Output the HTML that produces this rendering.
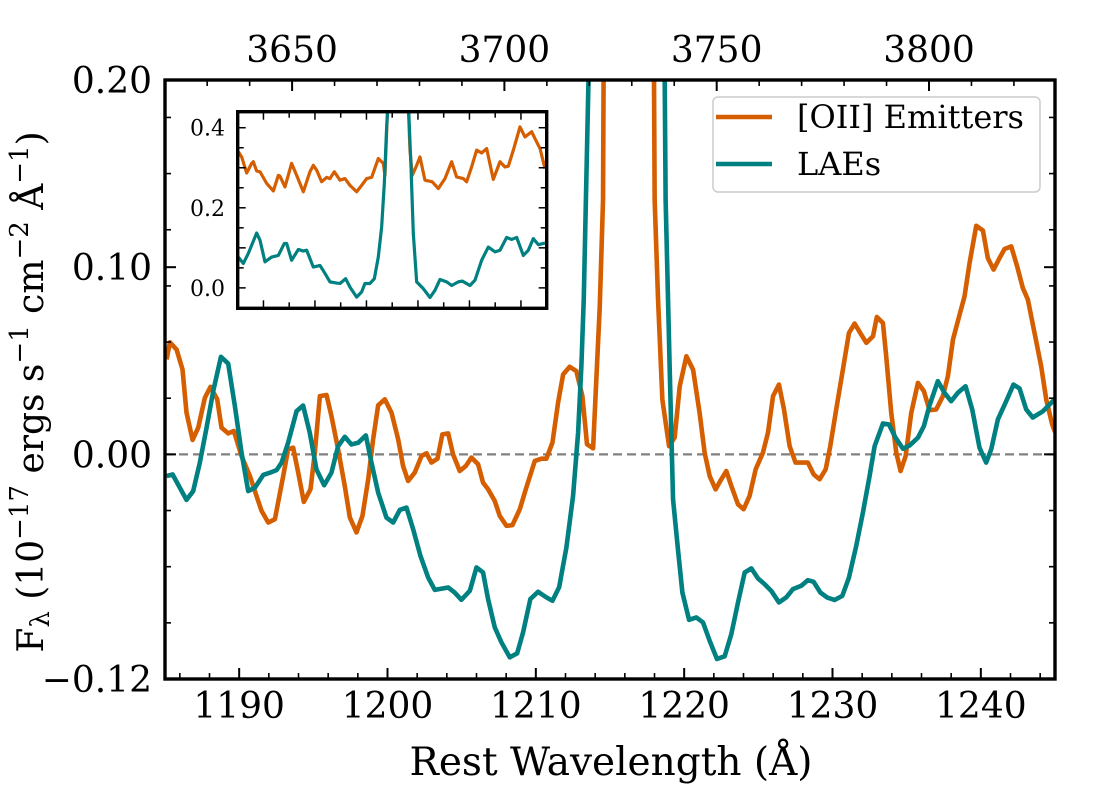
<!DOCTYPE html>
<html><head><meta charset="utf-8"><style>
html,body{margin:0;padding:0;background:#fff;}
svg{display:block;font-family:"DejaVu Serif","Liberation Serif",serif;}
</style></head><body>
<svg id="chart" width="1100" height="800" viewBox="0 0 1100 800" xmlns="http://www.w3.org/2000/svg">
<defs>
<clipPath id="mainClip"><rect x="165" y="80" width="890" height="599"/></clipPath>
<clipPath id="insetClip"><rect x="237.7" y="111.7" width="309" height="196.6"/></clipPath>
</defs>
<g id="main"></g>
<g id="inset"></g>
<g id="legend">
<rect x="713" y="97" width="327" height="95" rx="5" fill="#fff" fill-opacity="0.8" stroke="#cccccc" stroke-width="1.5"/>
<line x1="716" y1="117" x2="772" y2="117" stroke="#D55E00" stroke-width="4.5"/>
<text x="797" y="128" font-size="32">[OII] Emitters</text>
<line x1="716" y1="164" x2="772" y2="164" stroke="#008080" stroke-width="4.5"/>
<text x="797" y="175" font-size="32">LAEs</text>
</g>
<text x="611" y="775" font-size="39" text-anchor="middle">Rest Wavelength (Å)</text>
<text transform="translate(43,392) rotate(-90)" font-size="36" text-anchor="middle">F<tspan font-size="26" dy="6">λ</tspan><tspan dy="-6"> (10</tspan><tspan font-size="26" dy="-15">−17</tspan><tspan dy="15"> ergs s</tspan><tspan font-size="26" dy="-15">−1</tspan><tspan dy="15"> cm</tspan><tspan font-size="26" dy="-15">−2</tspan><tspan dy="15"> Å</tspan><tspan font-size="26" dy="-15">−1</tspan><tspan dy="15">)</tspan></text>
</svg>
<script>
// ---- main panel data ----
const oiiWave = [1185.11,1185.33,1185.78,1186.18,1186.45,1186.86,1187.24,1187.69,1188.07,1188.52,1188.81,1189.26,1189.64,1190.16,1190.72,1191.17,1191.51,1191.96,1192.41,1192.97,1193.3,1193.64,1193.98,1194.36,1194.81,1195.1,1195.44,1195.89,1196.22,1196.67,1197.12,1197.46,1197.91,1198.31,1198.7,1199.03,1199.37,1199.82,1200.27,1200.72,1201.05,1201.39,1201.84,1202.29,1202.63,1202.96,1203.37,1203.7,1204.09,1204.42,1204.87,1205.28,1205.66,1206.11,1206.44,1206.78,1207.23,1207.57,1208.02,1208.42,1208.92,1209.36,1209.93,1210.38,1210.71,1211.12,1211.5,1211.84,1212.28,1212.73,1213.14,1213.45,1213.86,1214.31,1214.53,1214.8,1215.5,1216.8,1217.7,1218.01,1218.24,1218.53,1218.98,1219.36,1219.7,1220.15,1220.6,1221.04,1221.38,1221.72,1222.12,1222.5,1222.84,1223.18,1223.63,1224.01,1224.41,1224.82,1225.31,1225.65,1225.99,1226.39,1226.73,1227.11,1227.51,1227.9,1228.34,1228.73,1229.13,1229.54,1229.85,1230.25,1230.7,1231.11,1231.49,1231.87,1232.28,1232.73,1232.99,1233.4,1233.62,1233.96,1234.3,1234.59,1234.93,1235.31,1235.76,1236.16,1236.54,1236.99,1237.44,1237.78,1238.12,1238.57,1238.9,1239.24,1239.69,1240.14,1240.47,1240.86,1241.26,1241.6,1242.05,1242.45,1242.83,1243.17,1243.62,1244.07,1244.41,1244.81,1245.0];
const oiiFlux = [0.0507,0.0599,0.056,0.0454,0.0223,0.0077,0.0143,0.0303,0.0361,0.0294,0.0143,0.0112,0.0125,-0.0009,-0.0115,-0.0222,-0.0302,-0.0364,-0.0346,-0.0115,0.0027,0.0036,-0.0097,-0.0254,-0.0186,0.0009,0.0311,0.0317,0.0205,0.0027,-0.0169,-0.0337,-0.0417,-0.0329,-0.0133,0.008,0.0262,0.0294,0.0223,0.008,-0.0062,-0.0142,-0.0097,-0.0009,0.0006,-0.0044,-0.0023,0.0107,0.0112,0.0,-0.0089,-0.0062,-0.0017,-0.0053,-0.0151,-0.0186,-0.0249,-0.0329,-0.0382,-0.0378,-0.0293,-0.0177,-0.0035,-0.0023,-0.0023,0.0063,0.0276,0.0427,0.0468,0.0445,0.0311,0.0054,0.0032,0.079,0.136,0.6,1.2,1.2,0.6,0.136,0.0827,0.0293,0.0044,0.009,0.0364,0.0524,0.0453,0.0222,0.0009,-0.0116,-0.0187,-0.0133,-0.0089,-0.0169,-0.0267,-0.0293,-0.0222,-0.008,0.0009,0.0116,0.0311,0.0373,0.024,0.0044,-0.0044,-0.0044,-0.0044,-0.0107,-0.0133,-0.008,0.0044,0.024,0.0453,0.0649,0.0699,0.0649,0.0596,0.0631,0.0734,0.0702,0.0524,0.0222,0.0009,-0.0089,-0.0009,0.0222,0.0382,0.0338,0.0236,0.024,0.0311,0.0418,0.0613,0.0747,0.0844,0.1022,0.1221,0.1196,0.1049,0.0987,0.1049,0.1097,0.1111,0.1004,0.0889,0.0827,0.0649,0.047,0.0293,0.016,0.012];
const laeWave = [1185.11,1185.51,1186.0,1186.45,1186.9,1187.35,1187.8,1188.25,1188.77,1189.26,1189.71,1190.16,1190.61,1191.06,1191.62,1192.07,1192.52,1192.86,1193.3,1193.87,1194.31,1194.76,1195.21,1195.73,1196.22,1196.67,1197.12,1197.57,1198.02,1198.54,1198.92,1199.37,1199.93,1200.38,1200.83,1201.28,1201.73,1202.22,1202.74,1203.19,1204.09,1204.53,1204.98,1205.55,1206.0,1206.44,1206.78,1207.23,1207.68,1208.24,1208.74,1209.14,1209.63,1210.15,1210.71,1211.12,1211.57,1212.06,1212.51,1212.85,1213.07,1213.23,1213.55,1214.2,1215.5,1217.2,1218.3,1218.75,1219.02,1219.25,1219.58,1219.88,1220.33,1220.82,1221.27,1221.72,1222.21,1222.73,1223.18,1223.63,1224.08,1224.53,1224.98,1225.42,1225.87,1226.39,1226.88,1227.33,1227.9,1228.34,1228.73,1229.18,1229.63,1230.14,1230.66,1231.11,1231.6,1232.05,1232.5,1232.84,1233.4,1233.8,1234.25,1234.75,1235.2,1235.76,1236.16,1236.54,1237.1,1237.55,1238.0,1238.45,1238.97,1239.42,1239.91,1240.36,1240.7,1241.15,1241.71,1242.2,1242.61,1243.06,1243.5,1244.18,1244.85,1245.0];
const laeFlux = [-0.0116,-0.0107,-0.0178,-0.0243,-0.0196,-0.0044,0.0142,0.0338,0.0521,0.0485,0.0258,0.0009,-0.0196,-0.0178,-0.011,-0.0098,-0.0084,-0.0044,0.0062,0.0231,0.0261,0.0116,-0.008,-0.0165,-0.0098,0.0044,0.0094,0.0053,0.0062,0.0101,-0.0044,-0.0204,-0.0338,-0.0364,-0.0297,-0.0284,-0.04,-0.0542,-0.0658,-0.0724,-0.0711,-0.0738,-0.0777,-0.0729,-0.0604,-0.0631,-0.0773,-0.0924,-0.1004,-0.1084,-0.1063,-0.0951,-0.0773,-0.0734,-0.0764,-0.0782,-0.071,-0.0498,-0.0222,0.0116,0.0471,0.0827,0.2,0.8,1.5,1.5,0.6,0.136,0.0471,-0.024,-0.0507,-0.0738,-0.0884,-0.0871,-0.0898,-0.0996,-0.1093,-0.1079,-0.096,-0.0791,-0.0631,-0.0609,-0.0663,-0.0693,-0.0729,-0.0791,-0.0764,-0.072,-0.0702,-0.0672,-0.0681,-0.0738,-0.0764,-0.0778,-0.0756,-0.0658,-0.0489,-0.0311,-0.0116,0.0044,0.0165,0.016,0.0089,0.003,0.0048,0.0089,0.0151,0.0261,0.0391,0.0329,0.0284,0.0329,0.0364,0.024,0.0036,-0.0044,0.0027,0.0187,0.0284,0.0373,0.0352,0.024,0.0197,0.023,0.0284,0.03];
const xTicks = [1190,1200,1210,1220,1230,1240];
const xTickLabels = ["1190","1200","1210","1220","1230","1240"];
const topTicks = [3650,3700,3750,3800];
const topTickLabels = ["3650","3700","3750","3800"];
const yTicks = [0.20,0.10,0.00,-0.12];
const yTickLabels = ["0.20","0.10","0.00","\u22120.12"];

// ---- inset data ----
const insOiiWave = [1185.12,1185.77,1186.74,1187.71,1188.03,1188.68,1189.33,1190.62,1191.92,1192.89,1193.21,1194.18,1195.47,1196.45,1197.74,1199.03,1199.68,1200.33,1201.3,1202.27,1202.92,1203.76,1204.86,1205.83,1206.8,1208.1,1209.07,1210.04,1211.01,1212.3,1213.27,1213.6,1214.25,1215.0,1217.3,1217.99,1218.45,1218.9,1219.75,1220.39,1221.36,1222.79,1223.95,1225.25,1226.54,1227.51,1228.81,1229.45,1230.42,1231.4,1232.37,1233.34,1234.63,1235.93,1236.9,1237.55,1238.52,1239.81,1240.78,1242.08,1242.72,1243.7,1244.67];
const insOiiFlux = [0.34,0.327,0.287,0.311,0.315,0.292,0.29,0.261,0.242,0.281,0.279,0.252,0.311,0.281,0.24,0.29,0.306,0.294,0.265,0.276,0.273,0.29,0.269,0.273,0.256,0.24,0.256,0.273,0.276,0.323,0.311,0.281,0.5,1.2,1.2,0.5,0.344,0.281,0.306,0.327,0.269,0.265,0.248,0.273,0.315,0.277,0.273,0.265,0.302,0.344,0.337,0.348,0.271,0.315,0.302,0.304,0.344,0.402,0.377,0.39,0.373,0.348,0.298];
const insLaeWave = [1185.12,1186.09,1187.06,1188.68,1189.33,1190.3,1191.59,1192.89,1194.05,1194.5,1195.47,1196.77,1197.74,1198.39,1199.68,1200.98,1201.95,1202.92,1204.21,1204.86,1205.96,1206.8,1208.1,1209.07,1209.71,1210.69,1211.53,1212.3,1212.95,1213.47,1213.92,1214.25,1215.0,1217.3,1218.12,1218.65,1219.1,1219.75,1221.04,1222.34,1223.31,1224.28,1225.57,1226.54,1227.84,1228.61,1230.1,1231.07,1232.37,1233.66,1234.96,1235.93,1237.22,1238.19,1239.17,1240.46,1241.43,1242.4,1243.37,1244.67];
const insLaeFlux = [0.077,0.061,0.086,0.137,0.119,0.065,0.077,0.081,0.111,0.111,0.069,0.096,0.092,0.094,0.052,0.056,0.036,0.015,0.012,0.011,0.023,0.002,-0.023,-0.01,0.011,0.011,0.023,0.077,0.152,0.261,0.402,0.469,1.2,1.2,0.469,0.302,0.136,0.015,-0.002,-0.024,-0.006,0.021,0.015,0.006,0.015,0.017,0.006,0.019,0.069,0.102,0.09,0.094,0.126,0.121,0.126,0.081,0.094,0.123,0.108,0.112];
const insYTicks = [0.0,0.2,0.4];
const insYTickLabels = ["0.0","0.2","0.4"];

const NS = "http://www.w3.org/2000/svg";
function mk(parent, tag, attrs){const e=document.createElementNS(NS,tag);for(const k in attrs)e.setAttribute(k,attrs[k]);parent.appendChild(e);return e;}

const M = {l:165,r:1055,t:80,b:679,x0:1185,x1:1245,y0:-0.12,y1:0.20};
const xS = v => M.l + (v-M.x0)/(M.x1-M.x0)*(M.r-M.l);
const yS = v => M.b - (v-M.y0)/(M.y1-M.y0)*(M.b-M.t);
const tS = v => 929 + (v-3800)*4.246;

const main = document.getElementById('main');
const zero = mk(main,'line',{x1:M.l,x2:M.r,y1:yS(0),y2:yS(0),stroke:'#808080','stroke-width':2.2,'stroke-dasharray':'9,5'});



function path(parent, xs, ys, fx, fy, color, w, clip, name){
  let d='';
  for(let i=0;i<xs.length;i++){d+=(i?'L':'M')+fx(xs[i]).toFixed(2)+','+fy(ys[i]).toFixed(2);}
  const p=mk(parent,'path',{d:d,fill:'none',stroke:color,'stroke-width':w,'stroke-linejoin':'round','clip-path':'url(#'+clip+')'});
  
  
  return p;
}
path(main,oiiWave,oiiFlux,xS,yS,'#D55E00',4.6,'mainClip','oii-emitters-line');
path(main,laeWave,laeFlux,xS,yS,'#008080',4.6,'mainClip','lae-line');

function tick(parent,x1,y1,x2,y2,w,name){const t=mk(parent,'line',{x1:x1,y1:y1,x2:x2,y2:y2,stroke:'#000','stroke-width':w});
  
  }
function label(parent,x,y,txt,size,anchor,name){const t=mk(parent,'text',{x:x,y:y,'font-size':size,'text-anchor':anchor});t.textContent=txt;
  
  }

for(let v=1186;v<=1244;v+=2){if(v%10===0)continue;const x=xS(v);tick(main,x,M.b,x,M.b-6,1.6,'x-minor-tick');}
xTicks.forEach((v,i)=>{const x=xS(v);tick(main,x,M.b,x,M.b-11,2,'x-major-tick');label(main,x,718,xTickLabels[i],36,'middle','x-tick-label');});
for(let v=3620;v<=3830;v+=10){if(v%50===0)continue;const x=tS(v);if(x<M.l||x>M.r)continue;tick(main,x,M.t,x,M.t+6,1.6,'top-minor-tick');}
topTicks.forEach((v,i)=>{const x=tS(v);tick(main,x,M.t,x,M.t+11,2,'top-major-tick');label(main,x,62,topTickLabels[i],36,'middle','top-tick-label');});
for(let k=-3;k<=6;k++){const v=k*0.03;const y=yS(v);tick(main,M.l,y,M.l+6,y,1.6,'y-minor-tick');tick(main,M.r,y,M.r-6,y,1.6,'y-minor-tick-right');}
yTicks.forEach((v,i)=>{const y=yS(v);tick(main,M.l,y,M.l+11,y,2,'y-major-tick');tick(main,M.r,y,M.r-11,y,2,'y-major-tick-right');label(main,152,y+13,yTickLabels[i],36,'end','y-tick-label');});
const frame=mk(main,'rect',{x:M.l,y:M.t,width:M.r-M.l,height:M.b-M.t,fill:'none',stroke:'#000','stroke-width':3.4});



const I = {l:237.7,r:546.7,t:111.7,b:308.3,x0:1185,x1:1245,y0:-0.051,y1:0.44};
const ixS = v => I.l + (v-I.x0)/(I.x1-I.x0)*(I.r-I.l);
const iyS = v => I.b - (v-I.y0)/(I.y1-I.y0)*(I.b-I.t);
const inset=document.getElementById('inset');
const ibg=mk(inset,'rect',{x:I.l,y:I.t,width:I.r-I.l,height:I.b-I.t,fill:'#fff'});


path(inset,insOiiWave,insOiiFlux,ixS,iyS,'#D55E00',3.2,'insetClip','inset-oii-line');
path(inset,insLaeWave,insLaeFlux,ixS,iyS,'#008080',3.2,'insetClip','inset-lae-line');
for(let v=1190;v<=1240;v+=5){const x=ixS(v);const len=(v%10===0)?8:6;tick(inset,x,I.b,x,I.b-len,1.5,'inset-x-tick');tick(inset,x,I.t,x,I.t+len,1.5,'inset-x-tick-top');}
for(let k=0;k<=8;k++){const v=k*0.05;const y=iyS(v);const len=(k%2===0)?8:6;tick(inset,I.l,y,I.l+len,y,1.5,'inset-y-tick');tick(inset,I.r,y,I.r-len,y,1.5,'inset-y-tick-right');}
insYTicks.forEach((v,i)=>{label(inset,225,iyS(v)+8,insYTickLabels[i],22,'end','inset-y-tick-label');});
const iframe=mk(inset,'rect',{x:I.l,y:I.t,width:I.r-I.l,height:I.b-I.t,fill:'none',stroke:'#000','stroke-width':3.4});


</script>
</body></html>
